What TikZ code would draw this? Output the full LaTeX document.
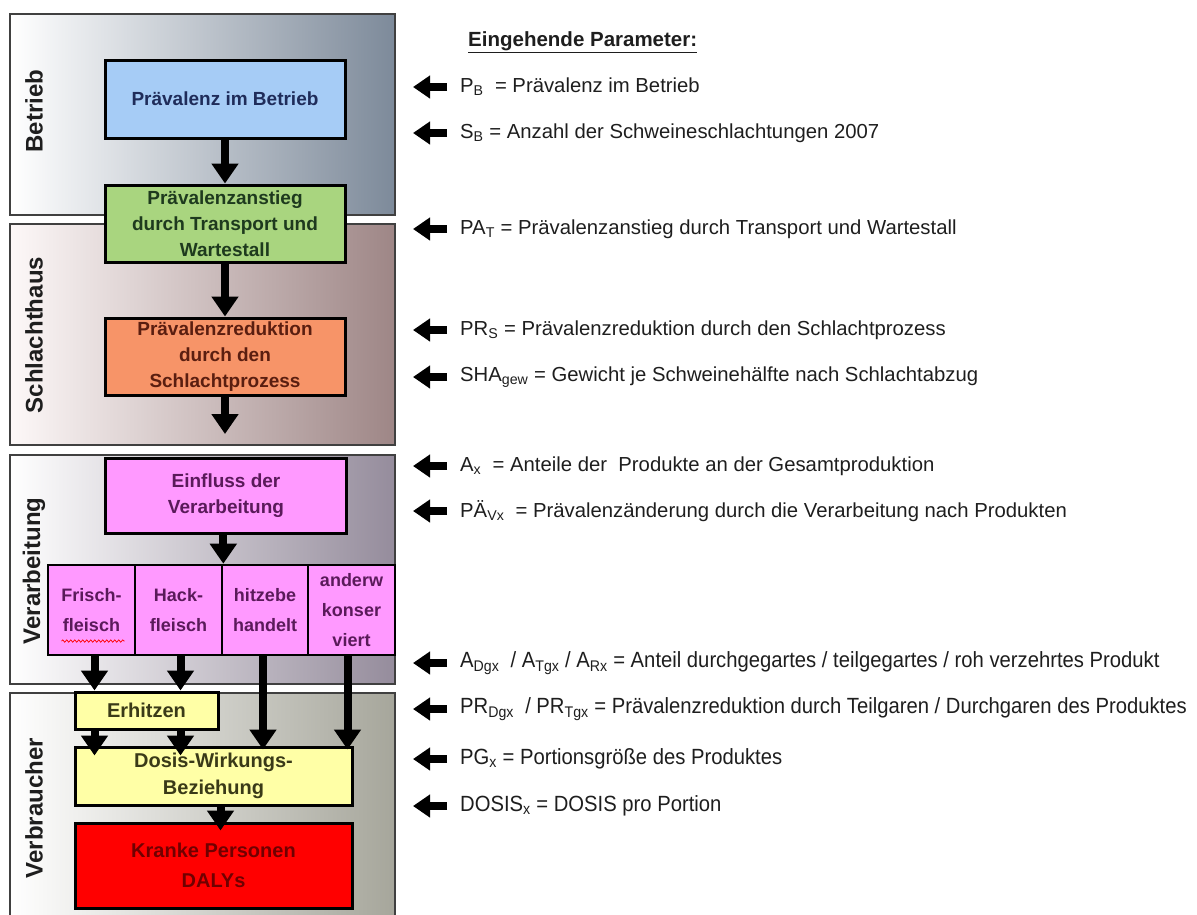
\documentclass[tikz,border=0pt]{standalone}
\usepackage{fontspec}
\setmainfont{Liberation Sans}
\newfontfamily\narrowsf[FakeStretch=0.92]{Liberation Sans}
\usetikzlibrary{arrows.meta,decorations.pathmorphing,calc}

\definecolor{betmid}{HTML}{D6DADF}
\definecolor{betright}{HTML}{7D8A9A}
\definecolor{schleft}{HTML}{FDF8F8}
\definecolor{schmid}{HTML}{DDD0D0}
\definecolor{schright}{HTML}{9E8686}
\definecolor{vermid}{HTML}{D2CED6}
\definecolor{verright}{HTML}{958C9C}
\definecolor{vbmid}{HTML}{D8D8D0}
\definecolor{vbright}{HTML}{A6A69B}
\definecolor{bluefill}{HTML}{A6CCF6}
\definecolor{bluetext}{HTML}{1F2C5A}
\definecolor{greenfill}{HTML}{A9D57F}
\definecolor{greentext}{HTML}{1E3A1E}
\definecolor{orangefill}{HTML}{F79468}
\definecolor{orangetext}{HTML}{5A1E10}
\definecolor{violetfill}{HTML}{FF99FF}
\definecolor{violettext}{HTML}{5A1A5A}
\definecolor{yellowfill}{HTML}{FFFFA6}
\definecolor{yellowtext}{HTML}{3A3A18}
\definecolor{redtext}{HTML}{700000}
\definecolor{inktext}{HTML}{1E1E1E}

\newcommand\idx[1]{\textsubscript{#1}}

\begin{document}
\begin{tikzpicture}[x=1pt,y=-1pt,
  secbox/.style={draw=black!75, line width=1.4pt},
  seclabel/.style={rotate=90, text=inktext, font=\bfseries\fontsize{24}{27}\selectfont, inner sep=0pt},
  procbox/.style={draw=black, line width=3pt, align=center, inner sep=2pt,
                  font=\bfseries\fontsize{19}{26}\selectfont},
  cellbox/.style={draw=black, line width=2.6pt, fill=violetfill, text=violettext, align=center,
                  inner sep=1pt, minimum height=90pt,
                  font=\bfseries\fontsize{18}{30}\selectfont},
  bigarrow/.style={line width=8pt, -{Triangle[length=20pt,width=26pt]}},
  leftarrow/.style={line width=8pt, -{Triangle[length=17pt,width=22pt]}},
  param/.style={anchor=west, inner sep=0pt, text=inktext, font=\fontsize{20.3}{24}\selectfont},
  nparam/.style={anchor=west, inner sep=0pt, text=inktext, font=\narrowsf\fontsize{22}{26}\selectfont}
]
\useasboundingbox (0,0) rectangle (1197,914);

% ---------- stage panels ----------
\draw[secbox, left color=white, middle color=betmid, right color=betright] (10,14) rectangle (395,215);
\draw[secbox, left color=schleft, middle color=schmid, right color=schright] (10,224) rectangle (395,445);
\draw[secbox, left color=white, middle color=vermid, right color=verright] (10,455) rectangle (395,684);
\draw[secbox, left color=white, middle color=vbmid, right color=vbright] (10,693) rectangle (395,918);

\node[seclabel] (lbet) at (34,111) {Betrieb};
\node[seclabel] (lsch) at (34,335) {Schlachthaus};
\node[seclabel] (lver) at (34,571) {Verarbeitung};
\node[seclabel] (lvb)  at (34,808) {Verbraucher};

% ---------- process chain ----------
\node[procbox, fill=bluefill, text=bluetext, minimum width=240pt, minimum height=78pt]
  (praev) at (225,99) {Prävalenz im Betrieb};
\node[procbox, fill=greenfill, text=greentext, minimum width=240pt, minimum height=77pt]
  (anstieg) at (225,223.5) {Prävalenzanstieg\\durch Transport und\\Wartestall};
\node[procbox, fill=orangefill, text=orangetext, minimum width=240pt, minimum height=77pt]
  (reduk) at (225,356.5) {Prävalenzreduktion\\durch den\\Schlachtprozess};
\coordinate (redend) at (225,434);

\node[procbox, fill=violetfill, text=violettext, minimum width=241pt, minimum height=75pt]
  (einfl) at (226,495.5) {Einfluss der\\Verarbeitung};

% product cells
\node[cellbox, minimum width=87pt] (frisch) at (91.5,610) {Frisch-\\fleisch};
\node[cellbox, minimum width=87pt] (hack)   at (178.5,610) {Hack-\\fleisch};
\node[cellbox, minimum width=86pt] (hitze)  at (265,610) {hitzebe\\handelt};
\node[cellbox, minimum width=87pt] (anders) at (351.5,610)
  {\fontsize{18}{21}\selectfont anderw\\konser\\viert};
\draw[red, line width=0.7pt, decorate, decoration={snake, amplitude=1.2pt, segment length=4pt}]
  ($(frisch.center)+(-30,31)$) -- ($(frisch.center)+(33,31)$);

\node[procbox, fill=yellowfill, text=yellowtext, minimum width=143pt, minimum height=37pt,
      font=\bfseries\fontsize{20}{24}\selectfont]
  (erhitz) at (146.5,710.5) {Erhitzen};
\node[procbox, fill=yellowfill, text=yellowtext, minimum width=277pt, minimum height=58pt,
      font=\bfseries\fontsize{20}{27}\selectfont]
  (dosis) at (213.5,776) {Dosis-Wirkungs-\\Beziehung};
\node[procbox, fill=red, text=redtext, minimum width=277pt, minimum height=85pt,
      font=\bfseries\fontsize{20}{30}\selectfont]
  (kranke) at (213.5,865.5) {Kranke Personen\\DALYs};

% ---------- flow arrows ----------
\draw[bigarrow] (praev.south) -- (anstieg.north);
\draw[bigarrow] (anstieg.south) -- (reduk.north);
\draw[bigarrow] (reduk.south) -- (redend);
\draw[bigarrow] (einfl.south -| hack.north east) -- (hack.north east);
\draw[bigarrow] ([xshift=3pt]frisch.south) -- ([xshift=3pt]frisch.south |- erhitz.north);
\draw[bigarrow] ([xshift=2pt]hack.south) -- ([xshift=2pt]hack.south |- erhitz.north);
\draw[bigarrow, shorten >=-10pt] ([xshift=3pt]frisch.south |- erhitz.south) -- ([xshift=3pt]frisch.south |- dosis.north);
\draw[bigarrow, shorten >=-10pt] ([xshift=2pt]hack.south |- erhitz.south) -- ([xshift=2pt]hack.south |- dosis.north);
\draw[bigarrow, shorten >=-4pt] ([xshift=-2pt]hitze.south) -- ([xshift=-2pt]hitze.south |- dosis.north);
\draw[bigarrow, shorten >=-4pt] ([xshift=-4pt]anders.south) -- ([xshift=-4pt]anders.south |- dosis.north);
\draw[bigarrow, shorten >=-9pt] ([xshift=7pt]dosis.south) -- ([xshift=7pt]kranke.north);

% ---------- incoming parameters ----------
\node[anchor=west, inner sep=0pt, text=inktext, font=\bfseries\fontsize{20.5}{24}\selectfont] (head) at (468,42)
  {\underline{Eingehende Parameter:}};

\node[param] (p1)  at (460,87)  {P\idx{B}\ \ = Prävalenz im Betrieb};
\node[param] (p2)  at (460,133) {S\idx{B} = Anzahl der Schweineschlachtungen 2007};
\node[param] (p3)  at (460,229) {PA\idx{T} = Prävalenzanstieg durch Transport und Wartestall};
\node[param] (p4)  at (460,330) {PR\idx{S} = Prävalenzreduktion durch den Schlachtprozess};
\node[param] (p5)  at (460,377) {SHA\idx{gew} = Gewicht je Schweinehälfte nach Schlachtabzug};
\node[param] (p6)  at (460,466) {A\idx{x}\ \ = Anteile der\ \ Produkte an der Gesamtproduktion};
\node[param] (p7)  at (460,511) {PÄ\idx{Vx}\ \ = Prävalenzänderung durch die Verarbeitung nach Produkten};
\node[nparam] (p8)  at (460,663) {A\idx{Dgx}\ \ / A\idx{Tgx} / A\idx{Rx} = Anteil durchgegartes / teilgegartes / roh verzehrtes Produkt};
\node[nparam] (p9)  at (460,709) {PR\idx{Dgx}\ \ / PR\idx{Tgx} = Prävalenzreduktion durch Teilgaren / Durchgaren des Produktes};
\node[nparam] (p10) at (460,759) {PG\idx{x} = Portionsgröße des Produktes};
\node[nparam] (p11) at (460,806) {DOSIS\idx{x} = DOSIS pro Portion};

\foreach \p in {p1,p2,p3,p4,p5,p6,p7,p8,p9,p10,p11}
  \draw[leftarrow] ([xshift=-13pt]\p.west) -- ++(-34,0);
\end{tikzpicture}
\end{document}
